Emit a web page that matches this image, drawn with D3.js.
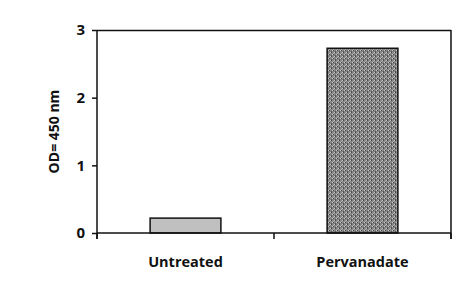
<!DOCTYPE html>
<html><head><meta charset="utf-8">
<script src="https://cdn.jsdelivr.net/npm/d3@7"></script>
<style>body{margin:0;background:#fff}svg{display:block}text{font-family:"Open Sans","Liberation Sans",sans-serif;font-weight:bold;fill:#111}</style>
</head><body>
<script>
const categories = ["Untreated", "Pervanadate"];
const values = [0.22, 2.73];
const yTicks = [0, 1, 2, 3];
const fills = ["#c0c0c0", "url(#dither)"];

const W = 473, H = 292;
const m = {left: 97, right: 22, top: 30, bottom: 59};
const svg = d3.select("body").append("svg").attr("width", W).attr("height", H);

const defs = svg.append("defs");
const pat = defs.append("pattern").attr("id", "dither").attr("patternUnits", "userSpaceOnUse")
  .attr("width", 4).attr("height", 4);
pat.append("rect").attr("width", 4).attr("height", 4).attr("fill", "#858585");
pat.append("rect").attr("x", 0).attr("y", 0).attr("width", 1).attr("height", 1).attr("fill", "#444");
pat.append("rect").attr("x", 2).attr("y", 2).attr("width", 1).attr("height", 1).attr("fill", "#444");
pat.append("rect").attr("x", 1).attr("y", 2).attr("width", 1).attr("height", 1).attr("fill", "#c8c8c8");
pat.append("rect").attr("x", 3).attr("y", 0).attr("width", 1).attr("height", 1).attr("fill", "#c8c8c8");
pat.append("rect").attr("x", 2).attr("y", 1).attr("width", 1).attr("height", 1).attr("fill", "#555");
pat.append("rect").attr("x", 0).attr("y", 3).attr("width", 1).attr("height", 1).attr("fill", "#b5b5b5");

const iw = W - m.left - m.right, ih = H - m.top - m.bottom;
const x = d3.scaleBand().domain(categories).range([0, iw]).paddingInner(0.6).paddingOuter(0.3);
const y = d3.scaleLinear().domain([0, 3]).range([ih, 0]);
const g = svg.append("g").attr("transform", `translate(${m.left},${m.top})`);

g.append("line").attr("x1", 0).attr("x2", iw).attr("y1", 0.5).attr("y2", 0.5).attr("stroke", "#111").attr("stroke-width", 1.5);
g.append("line").attr("x1", iw).attr("x2", iw).attr("y1", 0).attr("y2", ih + 6).attr("stroke", "#111").attr("stroke-width", 1.5);

g.selectAll(".bar").data(categories).join("rect")
  .attr("x", d => x(d)).attr("width", x.bandwidth())
  .attr("y", (d, i) => y(values[i])).attr("height", (d, i) => ih - y(values[i]))
  .attr("fill", (d, i) => fills[i]).attr("stroke", "#111").attr("stroke-width", 1.5);

const ya = g.append("g").call(d3.axisLeft(y).tickValues(yTicks).tickSize(5).tickPadding(7).tickFormat(d3.format("d")));
ya.select(".domain").attr("stroke", "#111").attr("stroke-width", 1.5).attr("d", `M0,0V${ih + 6}`);
ya.selectAll(".tick line").attr("stroke", "#111").attr("stroke-width", 1.5);
ya.selectAll("text").style("font-size", "15px").style("font-family", "Open Sans, sans-serif").style("font-weight", "bold").attr("fill", "#111");

const xa = g.append("g").attr("transform", `translate(0,${ih})`);
xa.append("line").attr("x1", 0).attr("x2", iw).attr("stroke", "#111").attr("stroke-width", 1.5);
const bounds = [0, iw / 2, iw];
xa.selectAll(".bt").data(bounds).join("line").attr("x1", d => d).attr("x2", d => d)
  .attr("y1", 0).attr("y2", 6).attr("stroke", "#111").attr("stroke-width", 1.5);
xa.selectAll(".lbl").data(categories).join("text")
  .attr("x", d => x(d) + x.bandwidth() / 2).attr("y", 34)
  .attr("text-anchor", "middle").style("font-size", "14.5px").text(d => d);

svg.append("text").attr("transform", `translate(59,${m.top + ih / 2}) rotate(-90)`)
  .attr("text-anchor", "middle").style("font-size", "14px").text("OD= 450 nm");
</script>
</body></html>
